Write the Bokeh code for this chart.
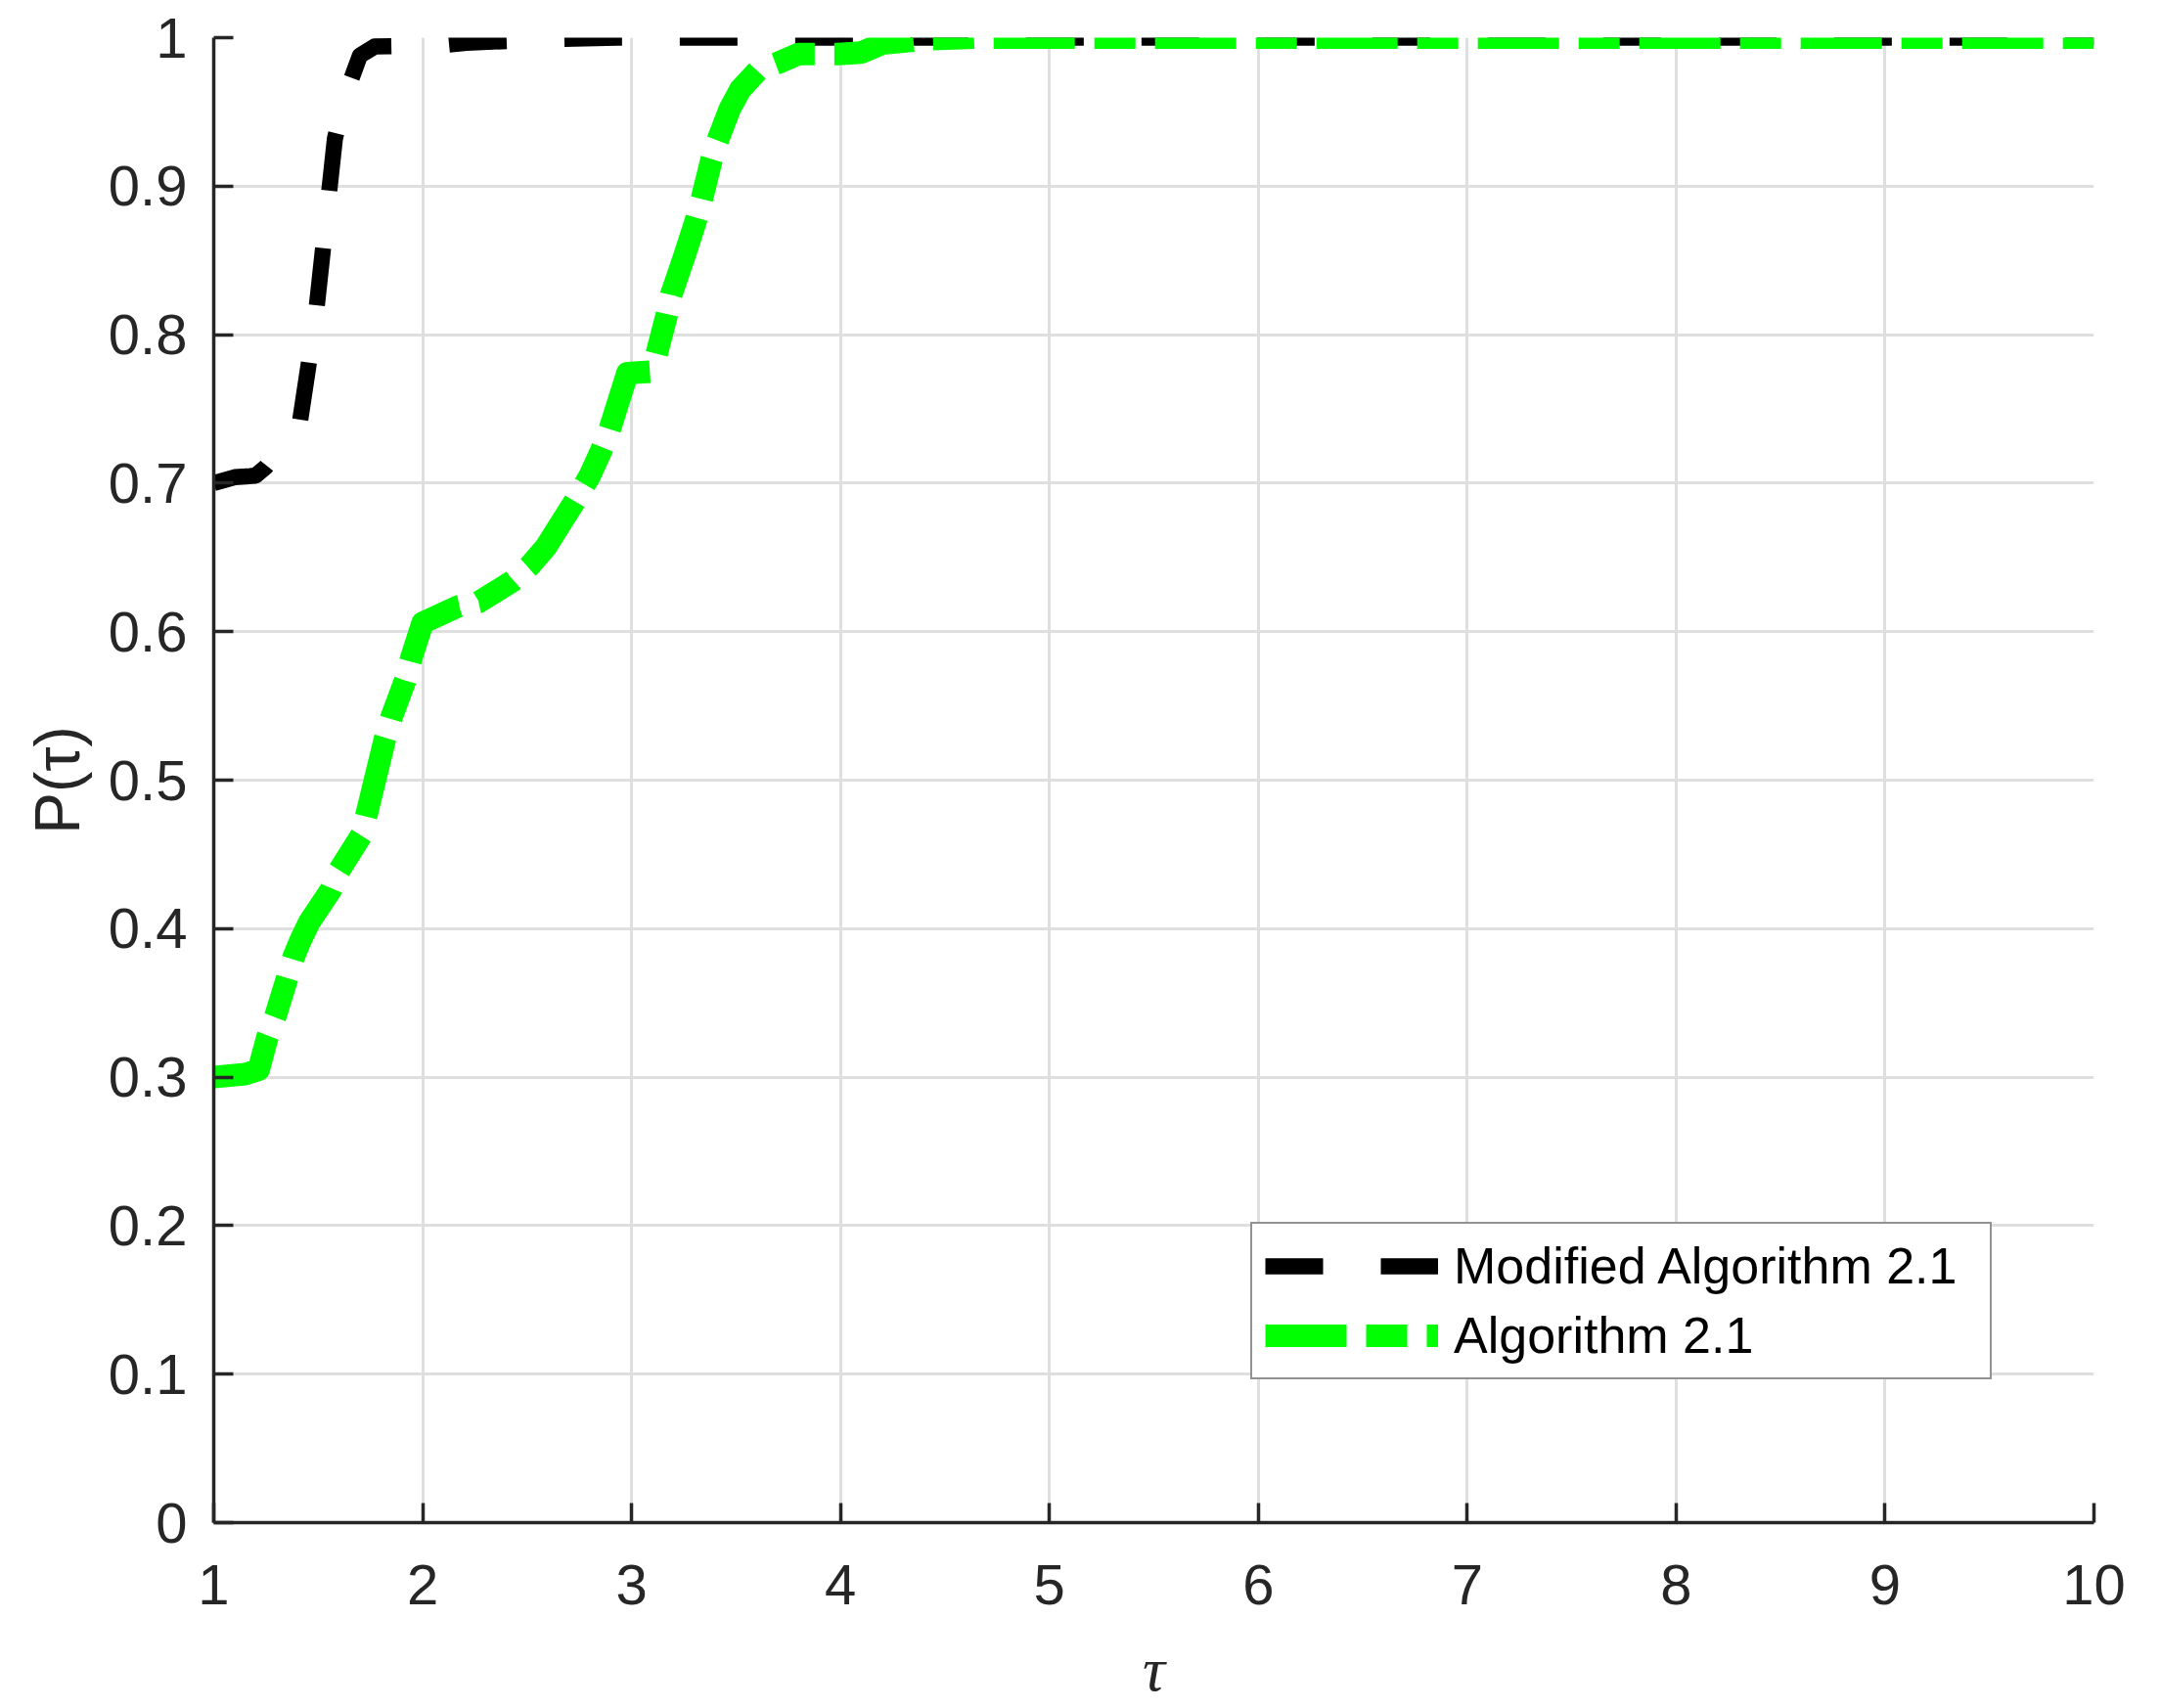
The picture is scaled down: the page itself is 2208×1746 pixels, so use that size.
from bokeh.plotting import figure
from bokeh.models import Range1d, FixedTicker, Legend, LegendItem
from bokeh.embed import file_html
from bokeh.resources import INLINE

# ---- data ----
tau_mod = [1.0, 1.1, 1.2, 1.25, 1.41, 1.45, 1.49, 1.52, 1.55, 1.58, 1.62, 1.65,
           1.70, 1.77, 2.1, 2.21, 2.38, 2.65, 2.93, 10.0]
p_mod = [0.700, 0.704, 0.705, 0.711, 0.739, 0.776, 0.815, 0.854, 0.893, 0.932,
         0.955, 0.969, 0.988, 0.994, 0.995, 0.9965, 0.9976, 0.999, 1.0, 1.0]

tau_alg = [1.0, 1.15, 1.215, 1.257, 1.295, 1.35, 1.38, 1.415, 1.456, 1.56, 1.60,
           1.707, 1.73, 1.82, 1.85, 1.916, 1.945, 2.0, 2.17, 2.27, 2.43, 2.51,
           2.59, 2.72, 2.80, 2.855, 2.895, 2.98, 3.09, 3.12, 3.167, 3.19, 3.253,
           3.308, 3.334, 3.383, 3.41, 3.47, 3.52, 3.605, 3.70, 3.80, 3.88, 3.99,
           4.10, 4.20, 4.35, 4.44, 4.64, 10.0]
p_alg = [0.300, 0.302, 0.305, 0.327, 0.341, 0.366, 0.380, 0.392, 0.404, 0.426,
         0.439, 0.463, 0.476, 0.528, 0.542, 0.567, 0.582, 0.606, 0.617, 0.620,
         0.634, 0.644, 0.657, 0.686, 0.705, 0.722, 0.736, 0.774, 0.775, 0.787,
         0.8125, 0.827, 0.853, 0.877, 0.890, 0.918, 0.930, 0.952, 0.965, 0.978,
         0.983, 0.989, 0.989, 0.989, 0.990, 0.996, 0.998, 0.999, 1.0, 1.0]

series_names = ["Modified Algorithm 2.1", "Algorithm 2.1"]

x_ticks = [1, 2, 3, 4, 5, 6, 7, 8, 9, 10]
y_ticks = [0.0, 0.1, 0.2, 0.3, 0.4, 0.5, 0.6, 0.7, 0.8, 0.9, 1.0]
y_tick_labels = ["0", "0.1", "0.2", "0.3", "0.4", "0.5", "0.6", "0.7", "0.8", "0.9", "1"]

x_label = "τ"
y_label = "P(τ)"

# ---- figure ----
AX = "#262626"
p = figure(width=2208, height=1746, output_backend="svg", toolbar_location=None,
           x_range=Range1d(1, 10), y_range=Range1d(0, 1),
           min_border_left=218, min_border_right=68, min_border_top=38,
           min_border_bottom=190)
p.outline_line_color = None
p.background_fill_color = "white"
p.border_fill_color = "white"

for ax in (p.xaxis[0], p.yaxis[0]):
    ax.axis_line_color = AX
    ax.axis_line_width = 3.5
    ax.major_tick_line_color = AX
    ax.major_tick_line_width = 3.5
    ax.major_tick_in = 20
    ax.major_tick_out = 0
    ax.minor_tick_line_color = None
    ax.major_label_text_font = "Liberation Sans"
    ax.major_label_text_font_size = "58px"
    ax.major_label_text_color = AX
    ax.axis_label_text_font_size = "64px"
    ax.axis_label_text_color = AX

p.xaxis.ticker = FixedTicker(ticks=x_ticks)
p.yaxis.ticker = FixedTicker(ticks=y_ticks)
p.yaxis.major_label_overrides = {t: s for t, s in zip(y_ticks, y_tick_labels)}
p.xaxis.major_label_standoff = 43
p.yaxis.major_label_standoff = 27

p.xaxis.axis_label = x_label
p.xaxis.axis_label_text_font = "Liberation Serif"
p.xaxis.axis_label_text_font_style = "italic"
p.xaxis.axis_label_standoff = 28

p.yaxis.axis_label = y_label
p.yaxis.axis_label_text_font = "Liberation Sans"
p.yaxis.axis_label_text_font_style = "normal"
p.yaxis.axis_label_standoff = 13

p.grid.grid_line_color = "#dfdfdf"
p.grid.grid_line_width = 3
p.xgrid.ticker = FixedTicker(ticks=x_ticks)
p.ygrid.ticker = FixedTicker(ticks=y_ticks)

r1 = p.line(tau_mod, p_mod, line_color="black", line_width=16.5,
            line_dash="59 59", line_cap="butt", line_join="round")
r2 = p.line(tau_alg, p_alg, line_color="#00ff00", line_width=23,
            line_dash="83 20 42 20", line_cap="butt", line_join="round")

legend = Legend(items=[LegendItem(label=series_names[0], renderers=[r1]),
                       LegendItem(label=series_names[1], renderers=[r2])],
                location=(1060, 146))
legend.label_text_font = "Liberation Sans"
legend.label_text_font_size = "52px"
legend.label_text_color = "black"
legend.glyph_width = 177
legend.glyph_height = 60
legend.label_height = 60
legend.label_width = 535
legend.label_standoff = 16
legend.spacing = 11
legend.padding = 13
legend.margin = 0
legend.border_line_color = AX
legend.border_line_width = 2.5
legend.background_fill_color = "white"
legend.background_fill_alpha = 1.0
p.add_layout(legend, "center")

open("out.html", "w").write(file_html(p, INLINE))
